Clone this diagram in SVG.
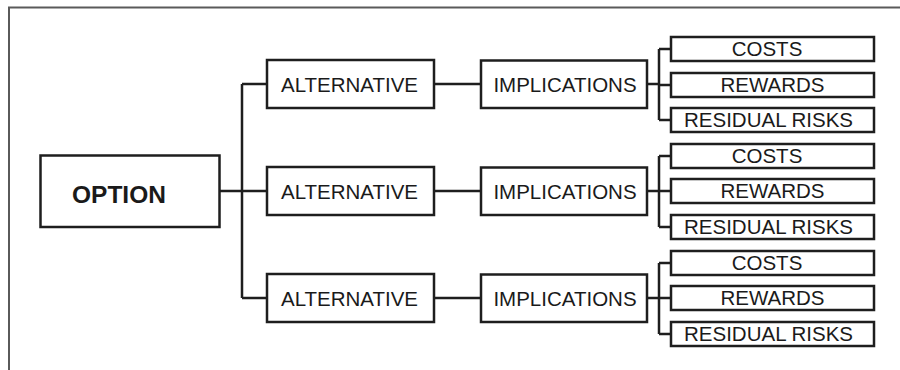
<svg xmlns="http://www.w3.org/2000/svg" width="900" height="370" viewBox="0 0 900 370">
<style>
.box{fill:#ffffff;stroke:#1e1e1e;stroke-width:2.5}
.lbl{font-family:"Liberation Sans",Arial,sans-serif;font-size:20.5px;fill:#1a1a1a;text-anchor:middle}
.big{font-family:"Liberation Sans",Arial,sans-serif;font-size:24.5px;font-weight:bold;fill:#1a1a1a}
.con{fill:none;stroke:#1e1e1e;stroke-width:2.5}
</style>
<rect x="0" y="0" width="900" height="370" fill="#ffffff"/>
<path d="M9,370 V7.5 H900" fill="none" stroke="#5a5a5a" stroke-width="2"/>
<g id="connectors">
<path class="con" d="M220,191 H242 M242,84 V298 M242,84 H267 M242,191 H267 M242,298 H267"/>
<path class="con" d="M434,84 H481 M434,191 H481 M434,298 H481"/>
<path class="con" d="M647,84 H659 M659,49 V120 M659,49 H671 M659,85 H671 M659,120 H671"/>
<path class="con" d="M647,191 H659 M659,156 V227 M659,156 H671 M659,191 H671 M659,227 H671"/>
<path class="con" d="M647,298 H659 M659,263 V334 M659,263 H671 M659,298 H671 M659,334 H671"/>
</g>
<g id="option"><rect class="box" x="40.5" y="155.5" width="179" height="71.5"/><text class="big" x="72" y="203">OPTION</text></g>
<g id="alt1"><rect class="box" x="267" y="60" width="167" height="48"/><text class="lbl" x="349.5" y="92">ALTERNATIVE</text></g>
<g id="alt2"><rect class="box" x="267" y="167" width="167" height="48"/><text class="lbl" x="349.5" y="199">ALTERNATIVE</text></g>
<g id="alt3"><rect class="box" x="267" y="274" width="167" height="48"/><text class="lbl" x="349.5" y="306">ALTERNATIVE</text></g>
<g id="imp1"><rect class="box" x="481" y="60.5" width="166" height="47.5"/><text class="lbl" x="565" y="92">IMPLICATIONS</text></g>
<g id="imp2"><rect class="box" x="481" y="167.5" width="166" height="47.5"/><text class="lbl" x="565" y="199">IMPLICATIONS</text></g>
<g id="imp3"><rect class="box" x="481" y="274.5" width="166" height="47.5"/><text class="lbl" x="565" y="306">IMPLICATIONS</text></g>
<g id="costs1"><rect class="box" x="671" y="37" width="203" height="24"/><text class="lbl" x="767" y="56">COSTS</text></g>
<g id="rewards1"><rect class="box" x="671" y="73" width="203" height="24"/><text class="lbl" x="772.5" y="92">REWARDS</text></g>
<g id="risks1"><rect class="box" x="671" y="108" width="203" height="24"/><text class="lbl" x="768.5" y="127">RESIDUAL RISKS</text></g>
<g id="costs2"><rect class="box" x="671" y="144" width="203" height="24"/><text class="lbl" x="767" y="163">COSTS</text></g>
<g id="rewards2"><rect class="box" x="671" y="179" width="203" height="24"/><text class="lbl" x="772.5" y="198">REWARDS</text></g>
<g id="risks2"><rect class="box" x="671" y="215" width="203" height="24"/><text class="lbl" x="768.5" y="234">RESIDUAL RISKS</text></g>
<g id="costs3"><rect class="box" x="671" y="251" width="203" height="24"/><text class="lbl" x="767" y="270">COSTS</text></g>
<g id="rewards3"><rect class="box" x="671" y="286" width="203" height="24"/><text class="lbl" x="772.5" y="305">REWARDS</text></g>
<g id="risks3"><rect class="box" x="671" y="322" width="203" height="24"/><text class="lbl" x="768.5" y="341">RESIDUAL RISKS</text></g>
</svg>
